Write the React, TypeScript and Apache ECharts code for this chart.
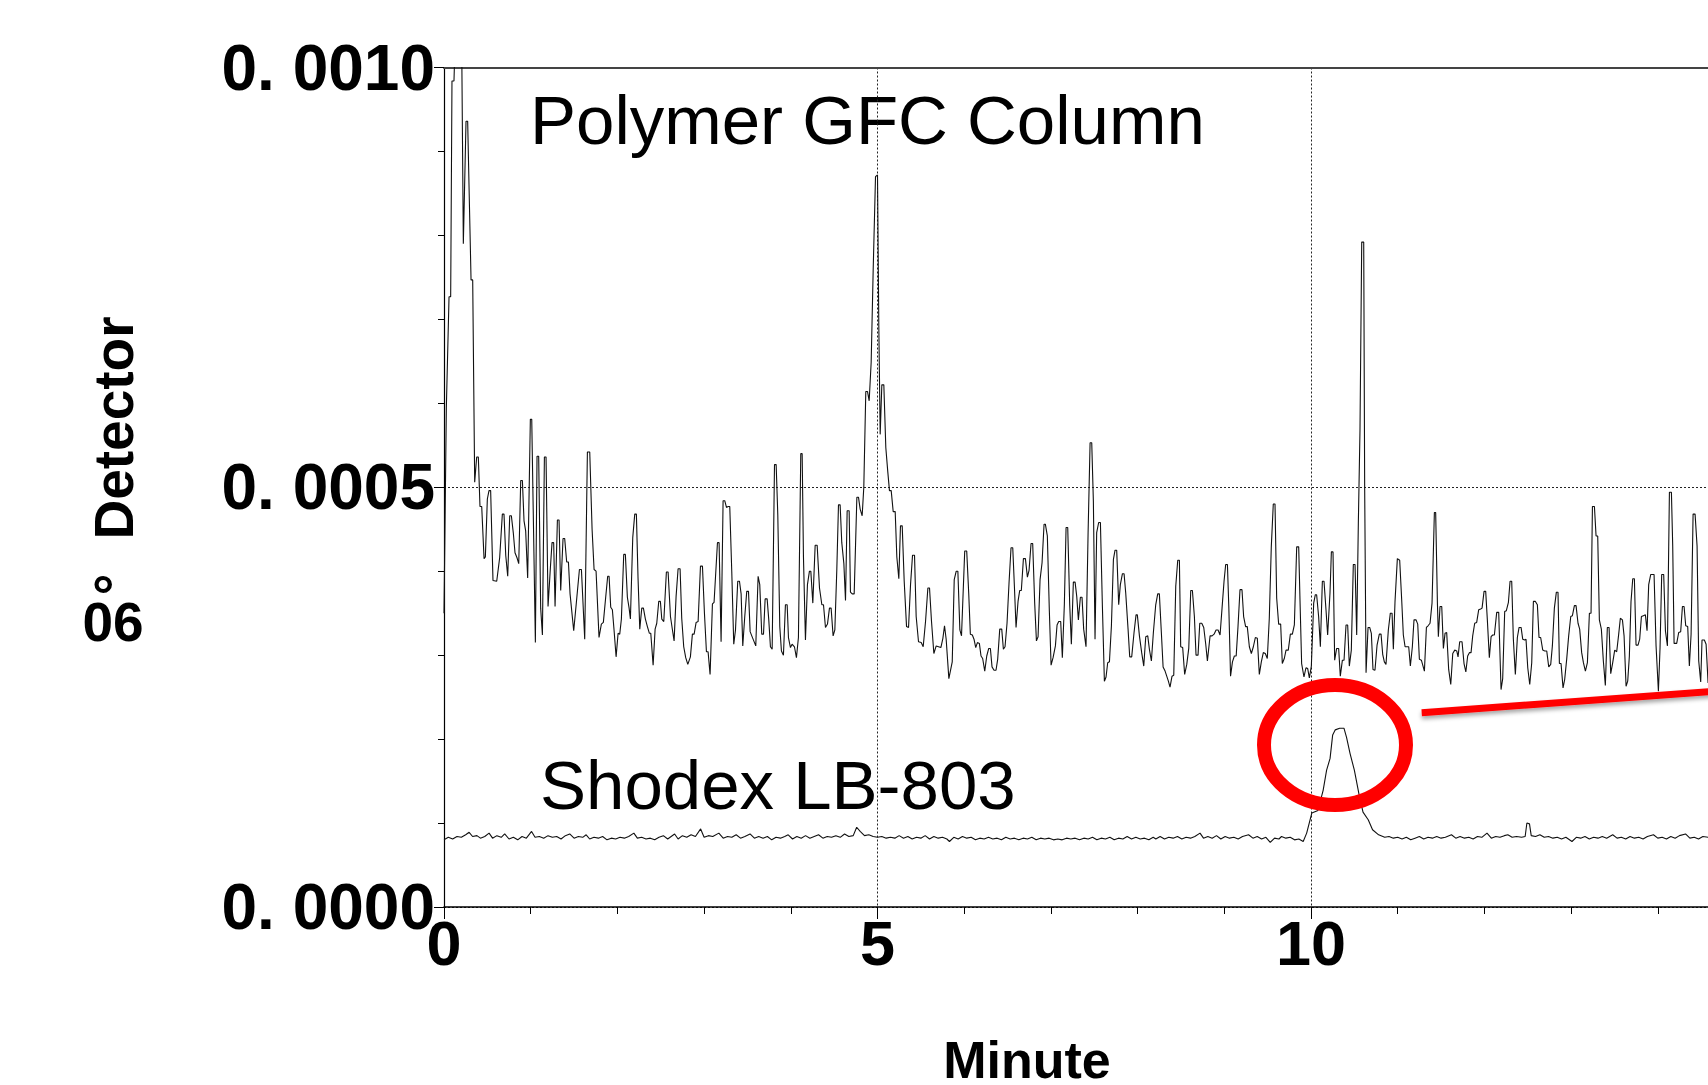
import React, { useEffect, useRef } from "react";
import * as echarts from "echarts";

// Time in minutes, detector signal in units of 1e-4 (axis shows 0. 0000 .. 0. 0010)
const xTickLabels = ["0", "5", "10"];
const yTickLabels = ["0. 0000", "0. 0005", "0. 0010"];
const seriesNames = ["Polymer GFC Column", "Shodex LB-803"];

const gfcTrace: [number, number][] = [
  [0, 3.5], [0.027, 5.95], [0.058, 7.27], [0.077, 7.27], [0.092, 9.84], [0.115, 9.84], [0.142, 10.8], [0.2, 10.8],
  [0.223, 7.9], [0.254, 9.36], [0.273, 9.36], [0.288, 8.62], [0.312, 7.47], [0.331, 7.47], [0.354, 5.06], [0.377, 5.36],
  [0.396, 5.36], [0.415, 4.77], [0.435, 4.77], [0.462, 4.15], [0.477, 4.17], [0.5, 4.86], [0.519, 4.96], [0.538, 4.96],
  [0.565, 3.89], [0.608, 3.88], [0.642, 4.16], [0.673, 4.68], [0.692, 4.68], [0.712, 4.19], [0.735, 3.94], [0.758, 4.66],
  [0.777, 4.66], [0.8, 4.45], [0.819, 4.22], [0.842, 4.16], [0.862, 4.09], [0.885, 5.08], [0.904, 5.08], [0.923, 4.6],
  [0.942, 4.48], [0.965, 3.92], [0.996, 5.81], [1.012, 5.81], [1.054, 3.15], [1.073, 5.37], [1.092, 5.37], [1.115, 3.56],
  [1.135, 3.24], [1.158, 5.36], [1.177, 5.36], [1.2, 3.58], [1.227, 4.04], [1.246, 4.34], [1.265, 4.34], [1.281, 3.58],
  [1.308, 4.61], [1.327, 4.61], [1.346, 3.77], [1.373, 4.39], [1.392, 4.39], [1.415, 4.11], [1.435, 4.11], [1.454, 3.73],
  [1.496, 3.29], [1.527, 3.63], [1.562, 4.02], [1.585, 4.02], [1.623, 3.19], [1.654, 5.42], [1.681, 5.42], [1.708, 4.5],
  [1.731, 4.02], [1.754, 4.0], [1.788, 3.21], [1.815, 3.37], [1.838, 3.39], [1.865, 3.69], [1.888, 3.94], [1.904, 3.94],
  [1.923, 3.57], [1.942, 3.54], [1.962, 3.29], [1.985, 2.98], [2.008, 3.26], [2.027, 3.25], [2.046, 3.43], [2.073, 4.2],
  [2.092, 4.2], [2.115, 3.69], [2.135, 3.56], [2.15, 3.43], [2.177, 4.4], [2.2, 4.68], [2.219, 4.68], [2.238, 3.92],
  [2.258, 3.31], [2.281, 3.56], [2.3, 3.56], [2.323, 3.43], [2.346, 3.34], [2.369, 3.26], [2.385, 3.26], [2.412, 2.88],
  [2.435, 3.31], [2.454, 3.38], [2.477, 3.64], [2.496, 3.64], [2.512, 3.43], [2.535, 3.4], [2.565, 3.99], [2.585, 3.99],
  [2.612, 3.46], [2.635, 3.3], [2.654, 3.17], [2.677, 3.7], [2.7, 4.03], [2.723, 4.03], [2.742, 3.44], [2.765, 3.1],
  [2.788, 2.97], [2.812, 2.89], [2.842, 2.98], [2.865, 3.25], [2.885, 3.25], [2.908, 3.39], [2.931, 3.4], [2.958, 4.06],
  [2.981, 4.06], [3.004, 3.5], [3.027, 3.04], [3.046, 3.04], [3.069, 2.77], [3.096, 3.61], [3.115, 3.63], [3.154, 4.34],
  [3.173, 4.34], [3.196, 3.16], [3.219, 4.84], [3.238, 4.84], [3.258, 4.76], [3.277, 4.77], [3.296, 4.77], [3.319, 4.0],
  [3.342, 3.13], [3.362, 3.3], [3.388, 3.88], [3.408, 3.88], [3.427, 3.73], [3.446, 3.11], [3.469, 3.46], [3.492, 3.76],
  [3.512, 3.76], [3.531, 3.28], [3.55, 3.23], [3.573, 3.17], [3.596, 3.11], [3.623, 3.94], [3.642, 3.84], [3.665, 3.25],
  [3.685, 3.25], [3.704, 3.67], [3.727, 3.67], [3.746, 3.42], [3.765, 3.1], [3.785, 3.07], [3.812, 5.27], [3.831, 5.27],
  [3.85, 4.67], [3.873, 3.34], [3.892, 3.05], [3.915, 3.0], [3.938, 3.6], [3.958, 3.6], [3.973, 3.21], [3.996, 3.09],
  [4.015, 3.13], [4.042, 3.1], [4.065, 2.97], [4.088, 3.21], [4.115, 5.4], [4.131, 5.4], [4.146, 4.17], [4.169, 3.18],
  [4.192, 3.84], [4.215, 4.0], [4.231, 4.0], [4.254, 3.62], [4.281, 4.31], [4.304, 4.31], [4.331, 3.8], [4.358, 3.6],
  [4.377, 3.6], [4.4, 3.33], [4.423, 3.37], [4.446, 3.56], [4.465, 3.56], [4.488, 3.23], [4.508, 3.3], [4.531, 4.03],
  [4.55, 4.79], [4.569, 4.79], [4.588, 4.34], [4.612, 4.09], [4.631, 3.65], [4.65, 4.72], [4.673, 4.72], [4.688, 3.75],
  [4.708, 3.73], [4.731, 3.73], [4.762, 4.88], [4.781, 4.88], [4.8, 4.74], [4.823, 4.66], [4.842, 5.0], [4.865, 6.14],
  [4.885, 6.14], [4.904, 6.03], [4.927, 6.49], [4.95, 7.58], [4.977, 8.7], [5.0, 8.72], [5.015, 6.93], [5.031, 5.63],
  [5.05, 6.22], [5.073, 6.22], [5.096, 5.47], [5.119, 5.18], [5.138, 4.96], [5.158, 4.96], [5.181, 4.71], [5.204, 4.71],
  [5.223, 4.17], [5.246, 3.91], [5.265, 4.54], [5.285, 4.54], [5.308, 3.88], [5.335, 3.34], [5.358, 3.33], [5.381, 3.84],
  [5.404, 4.19], [5.427, 4.19], [5.446, 3.46], [5.473, 3.16], [5.504, 3.15], [5.527, 3.1], [5.554, 3.4], [5.581, 3.8],
  [5.6, 3.8], [5.623, 3.4], [5.65, 3.02], [5.677, 3.11], [5.704, 3.1], [5.731, 3.09], [5.754, 3.2], [5.773, 3.35],
  [5.792, 3.19], [5.823, 2.72], [5.862, 2.92], [5.885, 3.9], [5.908, 4.0], [5.927, 4.0], [5.95, 3.3], [5.969, 3.23],
  [6.006, 4.24], [6.029, 4.24], [6.052, 3.74], [6.071, 3.25], [6.094, 3.24], [6.113, 3.19], [6.133, 3.09], [6.152, 3.15],
  [6.175, 3.14], [6.194, 2.99], [6.213, 2.96], [6.237, 2.81], [6.26, 2.99], [6.283, 3.08], [6.302, 3.08], [6.321, 2.86],
  [6.344, 2.82], [6.367, 2.82], [6.386, 2.95], [6.41, 3.31], [6.433, 3.31], [6.452, 3.07], [6.471, 3.1], [6.494, 3.38],
  [6.517, 3.86], [6.54, 4.28], [6.56, 4.28], [6.579, 3.82], [6.598, 3.33], [6.621, 3.64], [6.64, 3.77], [6.659, 3.77],
  [6.683, 4.15], [6.706, 4.15], [6.729, 3.93], [6.748, 4.01], [6.771, 4.33], [6.79, 4.33], [6.813, 3.62], [6.833, 3.17],
  [6.852, 3.22], [6.875, 3.9], [6.898, 4.1], [6.921, 4.56], [6.936, 4.56], [6.959, 4.42], [6.982, 3.53], [7.002, 2.88],
  [7.025, 2.97], [7.052, 3.11], [7.071, 3.36], [7.09, 3.4], [7.113, 3.4], [7.132, 2.97], [7.155, 3.6], [7.175, 4.52],
  [7.194, 4.52], [7.217, 3.6], [7.236, 3.13], [7.259, 3.87], [7.279, 3.87], [7.298, 3.7], [7.317, 3.42], [7.34, 3.69],
  [7.359, 3.69], [7.378, 3.31], [7.405, 3.1], [7.429, 4.46], [7.452, 5.53], [7.471, 5.53], [7.49, 4.83], [7.509, 3.19],
  [7.528, 4.46], [7.551, 4.58], [7.571, 4.58], [7.594, 3.58], [7.617, 2.69], [7.636, 2.74], [7.655, 2.91], [7.675, 2.92],
  [7.698, 3.35], [7.721, 4.14], [7.74, 4.25], [7.759, 4.25], [7.782, 3.6], [7.801, 3.84], [7.825, 3.97], [7.844, 3.97],
  [7.863, 3.74], [7.89, 3.31], [7.909, 2.98], [7.932, 2.98], [7.959, 3.27], [7.982, 3.48], [7.997, 3.48], [8.021, 3.23],
  [8.047, 3.03], [8.071, 2.87], [8.094, 3.22], [8.117, 3.23], [8.136, 3.07], [8.159, 2.93], [8.182, 3.27], [8.209, 3.6],
  [8.232, 3.73], [8.251, 3.73], [8.274, 3.27], [8.294, 2.86], [8.317, 2.81], [8.336, 2.75], [8.355, 2.69], [8.374, 2.62],
  [8.397, 2.75], [8.417, 2.76], [8.44, 3.82], [8.463, 4.13], [8.482, 4.13], [8.497, 3.1], [8.52, 3.09], [8.543, 2.77],
  [8.567, 2.89], [8.59, 3.08], [8.613, 3.77], [8.632, 3.77], [8.655, 3.46], [8.674, 3.0], [8.697, 3.0], [8.717, 3.38],
  [8.74, 3.38], [8.763, 3.33], [8.786, 3.13], [8.805, 2.93], [8.836, 3.23], [8.859, 3.23], [8.882, 3.25], [8.905, 3.3],
  [8.928, 3.3], [8.951, 3.24], [8.974, 3.56], [8.997, 3.88], [9.016, 4.08], [9.036, 4.08], [9.052, 3.58], [9.072, 2.75],
  [9.094, 2.92], [9.116, 2.99], [9.137, 2.99], [9.158, 3.34], [9.181, 3.78], [9.204, 3.78], [9.223, 3.46], [9.246, 3.34],
  [9.265, 3.34], [9.289, 3.1], [9.312, 3.02], [9.335, 3.1], [9.358, 3.21], [9.381, 3.2], [9.404, 2.77], [9.427, 2.92],
  [9.45, 3.03], [9.473, 3.02], [9.496, 2.96], [9.519, 3.44], [9.542, 4.29], [9.565, 4.8], [9.585, 4.8], [9.604, 3.68],
  [9.627, 3.37], [9.65, 3.37], [9.669, 2.9], [9.692, 2.96], [9.712, 3.06], [9.738, 3.06], [9.762, 3.25], [9.785, 3.25],
  [9.808, 3.36], [9.835, 4.29], [9.858, 4.29], [9.873, 3.66], [9.892, 2.9], [9.919, 2.74], [9.942, 2.85], [9.962, 2.84],
  [9.981, 2.73], [10.004, 2.87], [10.031, 3.62], [10.05, 3.72], [10.065, 3.72], [10.088, 3.46], [10.108, 3.1], [10.131, 3.88],
  [10.15, 3.88], [10.173, 3.54], [10.192, 3.24], [10.219, 3.74], [10.235, 4.23], [10.254, 4.23], [10.273, 2.94], [10.296, 3.08],
  [10.319, 3.08], [10.338, 2.75], [10.362, 2.94], [10.381, 2.94], [10.404, 3.36], [10.423, 3.36], [10.442, 2.87], [10.465, 3.06],
  [10.488, 4.08], [10.508, 4.08], [10.527, 3.24], [10.546, 4.57], [10.565, 5.68], [10.585, 7.92], [10.608, 7.92], [10.619, 5.0],
  [10.635, 2.79], [10.658, 3.33], [10.677, 3.33], [10.696, 3.26], [10.715, 2.83], [10.738, 2.82], [10.762, 3.12], [10.788, 3.25],
  [10.808, 3.25], [10.827, 3.01], [10.846, 2.92], [10.865, 2.89], [10.892, 3.3], [10.915, 3.5], [10.935, 3.5], [10.95, 3.07],
  [10.969, 3.64], [10.996, 4.15], [11.023, 4.13], [11.046, 3.66], [11.065, 3.24], [11.085, 3.1], [11.127, 3.1], [11.146, 2.87],
  [11.169, 3.1], [11.188, 3.42], [11.212, 3.42], [11.231, 3.37], [11.25, 2.95], [11.273, 2.94], [11.308, 2.81], [11.331, 3.33],
  [11.35, 3.35], [11.373, 3.38], [11.396, 3.62], [11.423, 4.7], [11.438, 4.7], [11.458, 3.62], [11.469, 3.22], [11.488, 3.58],
  [11.508, 3.58], [11.527, 3.08], [11.546, 3.26], [11.565, 3.27], [11.588, 2.83], [11.612, 2.65], [11.635, 3.02], [11.658, 3.06],
  [11.681, 3.05], [11.696, 2.98], [11.715, 3.16], [11.742, 3.16], [11.765, 2.9], [11.786, 2.8], [11.807, 2.99], [11.827, 3.03],
  [11.846, 3.03], [11.865, 3.23], [11.888, 3.38], [11.911, 3.39], [11.934, 3.54], [11.957, 3.55], [11.973, 3.56], [11.996, 3.76],
  [12.015, 3.76], [12.034, 3.42], [12.057, 2.97], [12.077, 3.22], [12.096, 3.24], [12.115, 3.24], [12.142, 3.51], [12.165, 3.51],
  [12.192, 2.59], [12.211, 2.72], [12.234, 3.52], [12.253, 3.53], [12.277, 3.63], [12.296, 3.88], [12.315, 3.88], [12.334, 3.19],
  [12.357, 2.77], [12.38, 3.21], [12.4, 3.33], [12.423, 3.33], [12.442, 3.19], [12.465, 3.18], [12.48, 3.19], [12.5, 2.85],
  [12.523, 2.65], [12.546, 2.91], [12.565, 3.64], [12.588, 3.64], [12.611, 3.6], [12.63, 3.21], [12.649, 3.21], [12.673, 3.06],
  [12.696, 3.05], [12.719, 3.05], [12.742, 2.86], [12.765, 2.89], [12.784, 3.11], [12.807, 3.56], [12.83, 3.75], [12.849, 3.75],
  [12.865, 2.9], [12.884, 2.9], [12.907, 2.61], [12.926, 2.71], [12.949, 2.95], [12.972, 3.23], [12.996, 3.46], [13.015, 3.47],
  [13.038, 3.59], [13.057, 3.59], [13.08, 3.38], [13.099, 3.31], [13.122, 3.03], [13.142, 2.91], [13.165, 2.81], [13.188, 2.91],
  [13.211, 3.5], [13.23, 3.5], [13.246, 4.77], [13.269, 4.77], [13.288, 4.42], [13.307, 4.42], [13.326, 3.42], [13.349, 3.31],
  [13.372, 2.93], [13.395, 2.64], [13.418, 3.33], [13.438, 3.33], [13.457, 2.78], [13.48, 2.91], [13.503, 3.06], [13.526, 3.04],
  [13.549, 3.25], [13.568, 3.44], [13.592, 3.42], [13.611, 3.23], [13.634, 2.63], [13.653, 2.69], [13.672, 2.99], [13.691, 3.64],
  [13.711, 3.91], [13.73, 3.91], [13.749, 3.12], [13.772, 3.12], [13.791, 3.19], [13.811, 3.46], [13.834, 3.47], [13.857, 3.48],
  [13.876, 3.29], [13.895, 3.84], [13.918, 3.96], [13.957, 3.96], [13.98, 3.11], [14.007, 2.57], [14.026, 3.09], [14.045, 3.96],
  [14.068, 3.96], [14.088, 3.29], [14.111, 3.11], [14.134, 4.94], [14.157, 4.94], [14.172, 4.3], [14.188, 3.14], [14.218, 3.14],
  [14.241, 3.27], [14.264, 3.28], [14.284, 3.58], [14.303, 3.58], [14.322, 3.35], [14.345, 3.34], [14.364, 2.87], [14.384, 3.25],
  [14.407, 4.68], [14.43, 4.68], [14.453, 4.3], [14.472, 2.93], [14.495, 2.68], [14.51, 3.18], [14.537, 3.18], [14.557, 3.13],
  [14.58, 2.67], [14.62, 3.05], [14.66, 3.3],
];

const lb803Trace: [number, number][] = [
  [0.0, 0.8], [0.05, 0.83], [0.1, 0.81], [0.15, 0.84], [0.2, 0.83], [0.25, 0.86], [0.29, 0.89], [0.33, 0.84], [0.38, 0.85],
  [0.42, 0.82], [0.47, 0.84], [0.52, 0.88], [0.56, 0.82], [0.61, 0.85], [0.66, 0.83], [0.7, 0.87], [0.75, 0.81], [0.8, 0.83],
  [0.85, 0.8], [0.9, 0.84], [0.95, 0.82], [1.01, 0.9], [1.05, 0.83], [1.1, 0.84], [1.15, 0.82], [1.2, 0.85], [1.25, 0.83],
  [1.3, 0.84], [1.35, 0.81], [1.4, 0.85], [1.45, 0.87], [1.5, 0.82], [1.55, 0.84], [1.6, 0.83], [1.64, 0.86], [1.68, 0.81],
  [1.73, 0.83], [1.78, 0.82], [1.83, 0.84], [1.88, 0.8], [1.93, 0.82], [1.98, 0.81], [2.03, 0.83], [2.08, 0.82], [2.13, 0.84],
  [2.19, 0.88], [2.23, 0.82], [2.28, 0.83], [2.33, 0.81], [2.38, 0.82], [2.43, 0.8], [2.48, 0.83], [2.53, 0.85], [2.58, 0.81],
  [2.62, 0.84], [2.66, 0.87], [2.7, 0.81], [2.75, 0.85], [2.8, 0.83], [2.85, 0.86], [2.9, 0.84], [2.96, 0.93], [3.0, 0.83],
  [3.05, 0.85], [3.1, 0.84], [3.17, 0.88], [3.22, 0.82], [3.27, 0.84], [3.32, 0.83], [3.37, 0.86], [3.42, 0.82], [3.47, 0.84],
  [3.53, 0.87], [3.58, 0.82], [3.63, 0.84], [3.68, 0.82], [3.73, 0.84], [3.78, 0.8], [3.83, 0.83], [3.88, 0.82], [3.93, 0.84],
  [3.97, 0.86], [4.02, 0.81], [4.07, 0.84], [4.12, 0.82], [4.17, 0.85], [4.22, 0.82], [4.27, 0.84], [4.32, 0.86], [4.37, 0.82],
  [4.42, 0.84], [4.47, 0.83], [4.52, 0.85], [4.57, 0.83], [4.62, 0.87], [4.67, 0.84], [4.72, 0.85], [4.76, 0.95], [4.8, 0.9],
  [4.85, 0.85], [4.9, 0.86], [4.95, 0.84], [5.0, 0.83], [5.05, 0.84], [5.1, 0.82], [5.15, 0.83], [5.2, 0.82], [5.25, 0.85],
  [5.3, 0.82], [5.35, 0.84], [5.4, 0.81], [5.45, 0.83], [5.5, 0.82], [5.55, 0.85], [5.6, 0.81], [5.65, 0.84], [5.7, 0.82],
  [5.75, 0.83], [5.8, 0.81], [5.83, 0.78], [5.88, 0.83], [5.93, 0.81], [5.98, 0.84], [6.03, 0.82], [6.08, 0.83], [6.13, 0.8],
  [6.18, 0.82], [6.23, 0.81], [6.28, 0.83], [6.33, 0.81], [6.38, 0.82], [6.43, 0.8], [6.48, 0.83], [6.53, 0.81], [6.58, 0.82],
  [6.63, 0.8], [6.68, 0.82], [6.73, 0.81], [6.78, 0.83], [6.83, 0.8], [6.88, 0.82], [6.93, 0.81], [6.98, 0.82], [7.03, 0.8],
  [7.08, 0.81], [7.13, 0.8], [7.18, 0.82], [7.23, 0.81], [7.28, 0.82], [7.33, 0.8], [7.38, 0.82], [7.43, 0.81], [7.48, 0.83],
  [7.53, 0.8], [7.58, 0.82], [7.63, 0.81], [7.68, 0.83], [7.73, 0.8], [7.78, 0.82], [7.83, 0.81], [7.88, 0.84], [7.93, 0.81],
  [7.98, 0.83], [8.03, 0.81], [8.08, 0.82], [8.13, 0.8], [8.18, 0.83], [8.21, 0.81], [8.26, 0.84], [8.31, 0.81], [8.36, 0.83],
  [8.41, 0.82], [8.46, 0.84], [8.51, 0.81], [8.56, 0.83], [8.61, 0.82], [8.66, 0.84], [8.72, 0.88], [8.76, 0.82], [8.81, 0.84],
  [8.86, 0.82], [8.91, 0.85], [8.96, 0.81], [9.01, 0.84], [9.06, 0.82], [9.11, 0.83], [9.16, 0.81], [9.21, 0.84], [9.28, 0.86],
  [9.33, 0.82], [9.38, 0.84], [9.43, 0.81], [9.48, 0.83], [9.53, 0.77], [9.58, 0.82], [9.63, 0.81], [9.66, 0.84], [9.71, 0.82],
  [9.76, 0.83], [9.81, 0.8], [9.86, 0.81], [9.91, 0.78], [9.95, 0.88], [10.01, 1.12], [10.08, 1.15], [10.14, 1.39], [10.18, 1.63],
  [10.22, 1.77], [10.25, 2.05], [10.28, 2.11], [10.33, 2.13], [10.38, 2.13], [10.41, 2.02], [10.45, 1.83], [10.5, 1.63],
  [10.56, 1.31], [10.6, 1.13], [10.66, 1.04], [10.71, 0.92], [10.78, 0.86], [10.85, 0.83], [10.9, 0.84], [10.95, 0.82],
  [11.0, 0.83], [11.05, 0.81], [11.1, 0.83], [11.15, 0.8], [11.2, 0.82], [11.25, 0.84], [11.3, 0.81], [11.35, 0.83], [11.4, 0.82],
  [11.45, 0.84], [11.5, 0.82], [11.55, 0.83], [11.62, 0.86], [11.67, 0.82], [11.72, 0.84], [11.77, 0.82], [11.82, 0.83],
  [11.87, 0.81], [11.92, 0.84], [11.97, 0.83], [12.03, 0.88], [12.08, 0.82], [12.13, 0.84], [12.18, 0.83], [12.23, 0.85],
  [12.27, 0.86], [12.32, 0.83], [12.37, 0.84], [12.43, 0.83], [12.47, 0.84], [12.49, 1.0], [12.52, 0.99], [12.54, 0.85],
  [12.59, 0.84], [12.64, 0.86], [12.69, 0.83], [12.74, 0.84], [12.79, 0.82], [12.84, 0.83], [12.89, 0.81], [12.94, 0.83],
  [13.01, 0.78], [13.06, 0.83], [13.11, 0.82], [13.16, 0.84], [13.21, 0.81], [13.26, 0.83], [13.31, 0.82], [13.36, 0.84],
  [13.41, 0.82], [13.48, 0.86], [13.53, 0.82], [13.58, 0.83], [13.63, 0.81], [13.68, 0.84], [13.73, 0.82], [13.78, 0.83],
  [13.83, 0.81], [13.88, 0.84], [13.95, 0.86], [14.0, 0.82], [14.05, 0.83], [14.1, 0.81], [14.15, 0.84], [14.2, 0.82],
  [14.25, 0.85], [14.32, 0.87], [14.37, 0.82], [14.42, 0.83], [14.47, 0.81], [14.52, 0.84], [14.58, 0.83], [14.65, 0.82],
];

const SANS = '"Liberation Sans", Arial, Helvetica, sans-serif';

export default function App() {
  const ref = useRef<HTMLDivElement>(null);

  useEffect(() => {
    if (!ref.current) return;
    const chart = echarts.init(ref.current, undefined, { renderer: "svg" });
    const yLabelMap: Record<string, string> = { "0": yTickLabels[0], "5": yTickLabels[1], "10": yTickLabels[2] };
    const xLabelMap: Record<string, string> = { "0": xTickLabels[0], "5": xTickLabels[1], "10": xTickLabels[2] };

    chart.setOption({
      animation: false,
      backgroundColor: "#ffffff",
      grid: { left: 444, top: 67.5, width: 1300.5, height: 839.5, containLabel: false },
      xAxis: [
        {
          type: "value",
          min: 0,
          max: 15,
          interval: 5,
          axisLine: { show: true, lineStyle: { color: "#000", width: 1.5 } },
          axisTick: { show: true, length: 12, lineStyle: { color: "#000", width: 1 } },
          minorTick: { show: true, splitNumber: 5, length: 7, lineStyle: { color: "#000", width: 1 } },
          axisLabel: {
            show: true,
            margin: 11,
            showMaxLabel: false,
            fontFamily: SANS,
            fontWeight: "bold",
            fontSize: 63,
            lineHeight: 50,
            color: "#000",
            formatter: (v: number) => xLabelMap[String(v)] ?? "",
          },
          splitLine: { show: true, lineStyle: { color: "#222", type: [2, 2], width: 1 } },
        },
        {
          type: "value",
          min: 0,
          max: 15,
          position: "top",
          axisLine: { show: true, lineStyle: { color: "#444", width: 2 } },
          axisTick: { show: false },
          axisLabel: { show: false },
          splitLine: { show: false },
        },
      ],
      yAxis: {
        type: "value",
        min: 0,
        max: 10,
        interval: 5,
        axisLine: { show: true, lineStyle: { color: "#000", width: 1.2 } },
        axisTick: { show: true, length: 10, lineStyle: { color: "#000", width: 1 } },
        minorTick: { show: true, splitNumber: 5, length: 6, lineStyle: { color: "#000", width: 1 } },
        axisLabel: {
          show: true,
          margin: 9,
          fontFamily: SANS,
          fontWeight: "bold",
          fontSize: 64,
          lineHeight: 20,
          color: "#000",
          formatter: (v: number) => yLabelMap[String(v)] ?? "",
        },
        splitLine: { show: true, lineStyle: { color: "#222", type: [2, 2], width: 1 } },
      },
      series: [
        {
          name: seriesNames[0],
          type: "line",
          xAxisIndex: 0,
          data: gfcTrace,
          showSymbol: false,
          clip: true,
          lineStyle: { color: "#111", width: 1.1 },
        },
        {
          name: seriesNames[1],
          type: "line",
          xAxisIndex: 0,
          data: lb803Trace,
          showSymbol: false,
          clip: true,
          lineStyle: { color: "#111", width: 1.1 },
        },
      ],
      graphic: [
        {
          type: "text",
          left: 530,
          top: 86,
          style: { text: seriesNames[0], font: `69px ${SANS}`, fill: "#000" },
        },
        {
          type: "text",
          left: 540,
          top: 751,
          style: { text: seriesNames[1], font: `69px ${SANS}`, fill: "#000" },
        },
        {
          type: "text",
          x: 114,
          y: 428,
          rotation: Math.PI / 2,
          style: {
            text: "Detector",
            font: `bold 55px ${SANS}`,
            fill: "#000",
            align: "center",
            verticalAlign: "middle",
            lineHeight: 44,
          },
        },
        {
          type: "text",
          x: 92,
          y: 595,
          style: {
            text: "°",
            font: `bold 56px ${SANS}`,
            fill: "#000",
            align: "left",
            verticalAlign: "middle",
            lineHeight: 14,
          },
        },
        {
          type: "text",
          x: 113,
          y: 622,
          style: {
            text: "06",
            font: `bold 55px ${SANS}`,
            fill: "#000",
            align: "center",
            verticalAlign: "middle",
            lineHeight: 34,
          },
        },
        {
          type: "text",
          x: 1027,
          y: 1060,
          style: {
            text: "Minute",
            font: `bold 52px ${SANS}`,
            fill: "#000",
            align: "center",
            verticalAlign: "middle",
            lineHeight: 36,
          },
        },
        {
          type: "ellipse",
          shape: { cx: 1335, cy: 745, rx: 71, ry: 60 },
          style: { fill: "none", stroke: "#ff0000", lineWidth: 14 },
          z: 100,
        },
        {
          type: "line",
          shape: { x1: 1421.7, y1: 712.7, x2: 1730, y2: 690.1 },
          style: {
            stroke: "#ff0000",
            lineWidth: 7,
            shadowBlur: 4,
            shadowOffsetY: 3,
            shadowColor: "rgba(0,0,0,0.35)",
          },
          z: 100,
        },
      ],
    });
    return () => chart.dispose();
  }, []);

  return (
    <div
      style={{
        position: "absolute",
        left: 0,
        top: 0,
        width: 1708,
        height: 1085,
        overflow: "hidden",
        background: "#fff",
      }}
    >
      <div ref={ref} style={{ width: 1800, height: 1085 }} />
    </div>
  );
}
